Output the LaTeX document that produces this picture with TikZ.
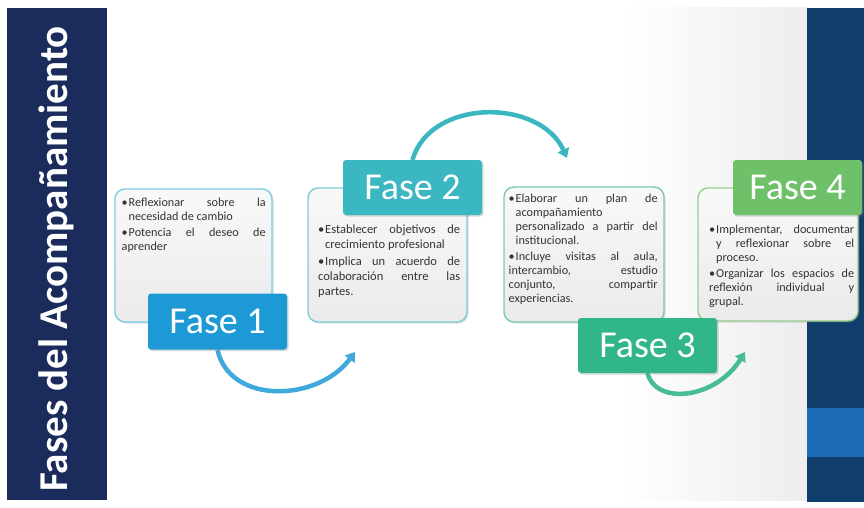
\documentclass[tikz,border=0pt]{standalone}
\usepackage{fontspec}
\setmainfont{Carlito}
\usetikzlibrary{shadows,arrows.meta}
\definecolor{navyL}{HTML}{1B2B5B}
\definecolor{navyR}{HTML}{0F3D6C}
\definecolor{stripe}{HTML}{1C6DB5}
\definecolor{cA}{HTML}{1D9AD6}
\definecolor{cB}{HTML}{3BB7C2}
\definecolor{cC}{HTML}{31B68C}
\definecolor{cD}{HTML}{6EC169}
\definecolor{bA}{HTML}{7CCBE9}
\definecolor{bB}{HTML}{7CCDD3}
\definecolor{bC}{HTML}{7BCBA9}
\definecolor{bD}{HTML}{97CD8F}
\newcommand\bul[1]{\hangindent=7pt\hangafter=1\noindent\makebox[7pt][l]{\textbullet}#1}
\newcommand\itgap{\par\vskip 2pt}
\tikzset{
  cbox/.style={rounded corners=10pt, line width=1.4pt, top color=gray!5, bottom color=gray!16,
    drop shadow={opacity=0.25, shadow xshift=1.5pt, shadow yshift=-1.5pt}, inner sep=0pt},
  txt/.style={anchor=north west, inner sep=0pt, align=justify, text=black!80,
    font=\fontsize{12.2}{14}\selectfont},
  fase/.style={rounded corners=3pt, minimum height=56pt, inner sep=0pt, text=white,
    font=\fontsize{38}{40}\selectfont, drop shadow={opacity=0.3, shadow xshift=1.5pt, shadow yshift=-1.5pt}},
  arr/.style={line width=4.5pt, -{Triangle[length=9pt,width=12pt]}}
}
\begin{document}
\begin{tikzpicture}[x=1pt,y=-1pt]
\useasboundingbox (0,0) rectangle (864,508);
\fill[white] (0,0) rectangle (864,508);
% right grey gradient of the white panel
\shade[left color=white, right color=gray!14] (620,8) rectangle (807,500);
% side bands
\fill[navyL] (7,8) rectangle (107,500);
\fill[navyR] (807,8) rectangle (864,502);
\fill[stripe] (807,408) rectangle (864,457);
\node[anchor=base, rotate=90, text=white, font=\bfseries\fontsize{41}{44}\selectfont, inner sep=0pt]
  (title) at (67,259) {Fases del Acompañamiento};

% content boxes
\node[cbox, draw=bA, minimum width=157pt, minimum height=133pt] (b1) at (193.5,255.5) {};
\node[cbox, draw=bB, minimum width=159pt, minimum height=134pt] (b2) at (387.5,255) {};
\node[cbox, draw=bC, minimum width=160pt, minimum height=135pt] (b3) at (584,254.5) {};
\node[cbox, draw=bD, minimum width=160pt, minimum height=133pt] (b4) at (778,254.5) {};

\node[txt, text width=144pt] (t1) at (121.5,198) {\bul{Reflexionar sobre la\linebreak necesidad de cambio}\itgap\bul{Potencia el deseo de\linebreak aprender}};
\node[txt, text width=142pt, font=\fontsize{12.5}{15}\selectfont] (t2) at (318,225) {\bul{Establecer objetivos de\linebreak crecimiento profesional}\itgap\bul{Implica un acuerdo de\linebreak colaboración entre las\linebreak partes.}};
\node[txt, text width=149pt] (t3) at (508.5,194) {\bul{Elaborar un plan de\linebreak acompañamiento\newline personalizado a partir del\linebreak institucional.}\itgap\bul{Incluye visitas al aula,\linebreak intercambio, estudio\linebreak conjunto, compartir\linebreak experiencias.}};
\node[txt, text width=145pt] (t4) at (709,225) {\bul{Implementar, documentar\linebreak y reflexionar sobre el\linebreak proceso.}\itgap\bul{Organizar los espacios de\linebreak reflexión individual y\linebreak grupal.}};

% arrow ends
\coordinate (s1) at (217.5,350);
\coordinate (s2) at (412.5,160);
\coordinate (s3) at (647.5,373);
\coordinate (e1) at (355,352);
\coordinate (e2) at (567,158);
\coordinate (e3) at (745,352);

% arrows
\draw[arr, cA!85!white] (s1) .. controls (230,405) and (318,402) .. (e1);
\draw[arr, cB] (s2) .. controls (430,98) and (540,98) .. (e2);
\draw[arr, cC!90!white] (s3) .. controls (655,405) and (715,400) .. (e3);

% phase labels
\node[fase, fill=cA, minimum width=139pt] (f1) at (217.5,321.5) {Fase 1};
\node[fase, fill=cB, minimum width=139pt, minimum height=55pt] (f2) at (412.5,187.5) {Fase 2};
\node[fase, fill=cC, minimum width=139pt, minimum height=55pt] (f3) at (647.5,345.5) {Fase 3};
\node[fase, fill=cD, minimum width=129pt, minimum height=55pt] (f4) at (797.5,187.5) {Fase 4};
\end{tikzpicture}
\end{document}
